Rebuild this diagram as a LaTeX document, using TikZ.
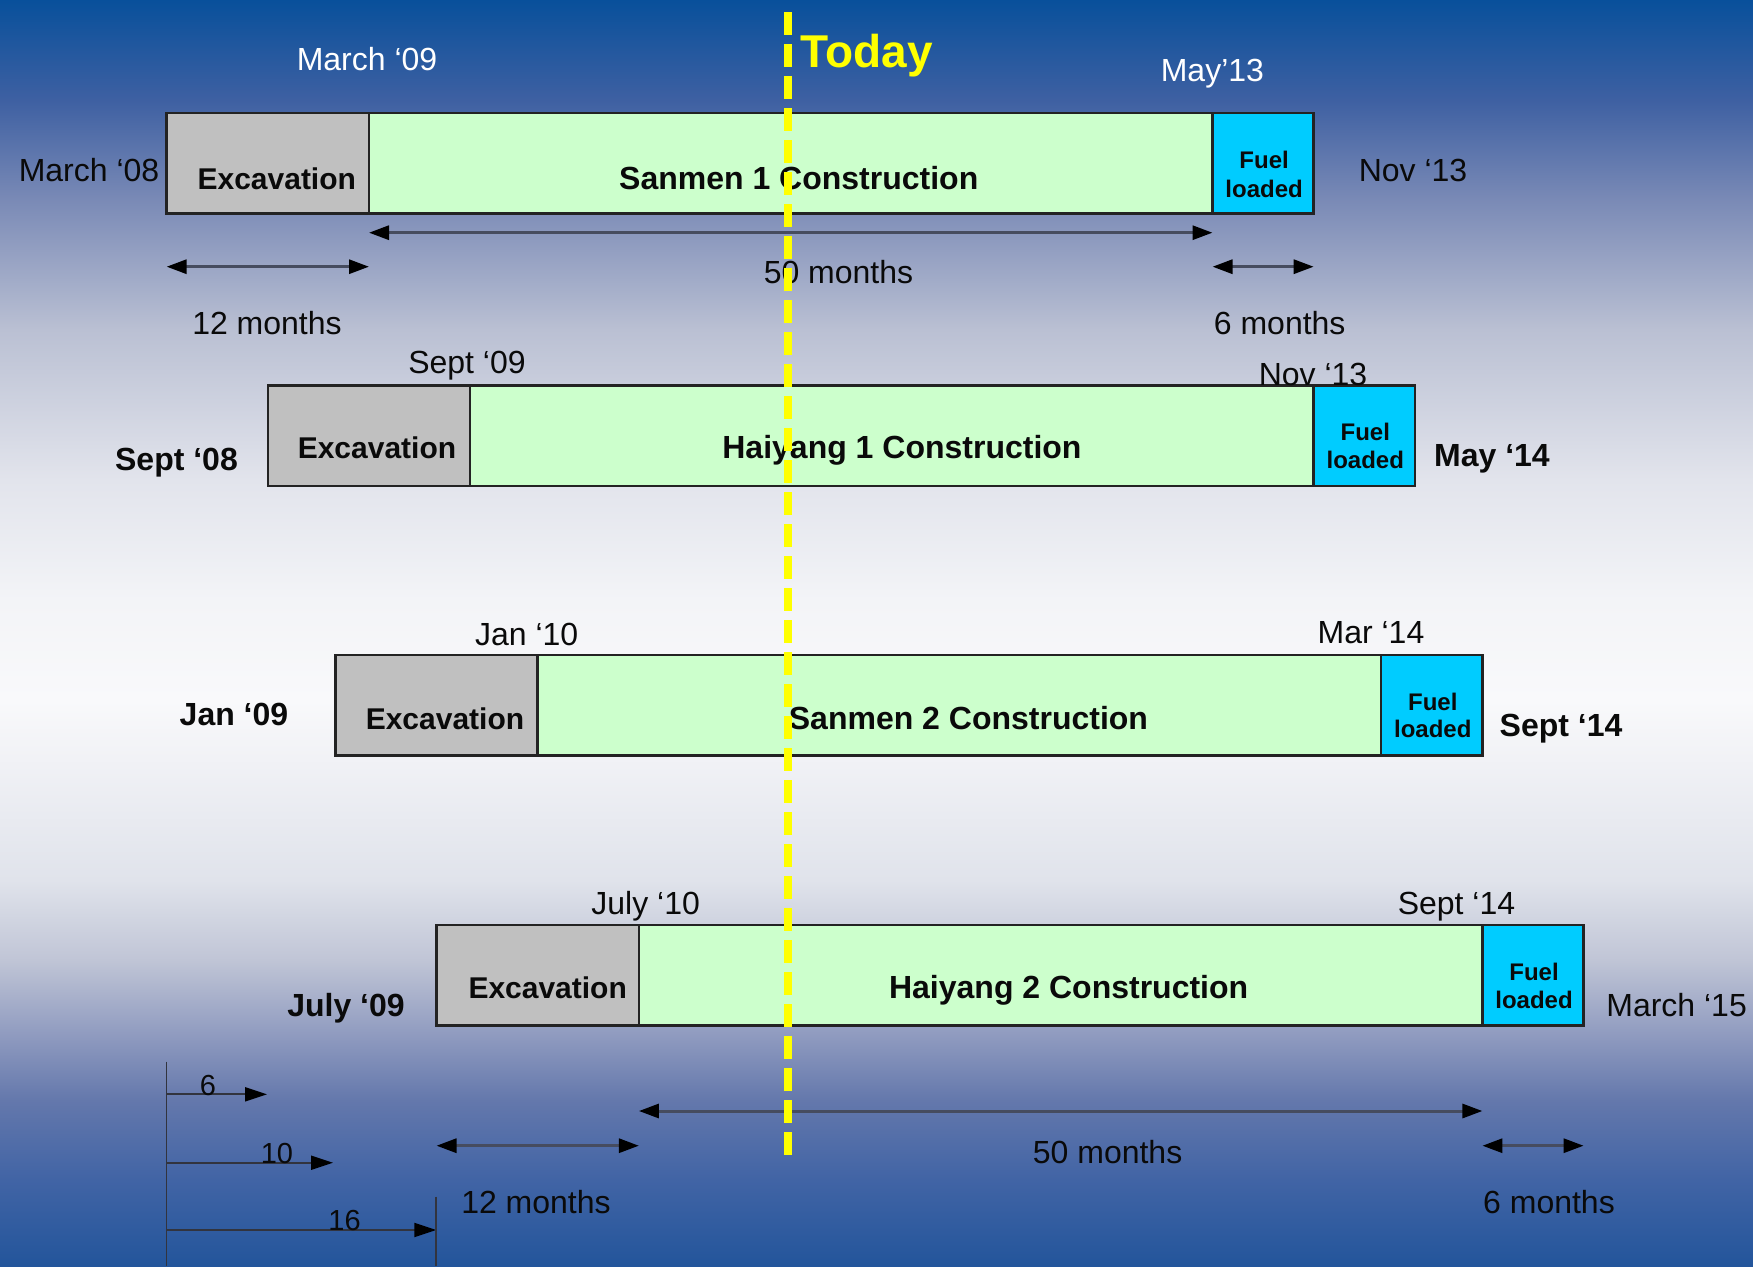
\documentclass[tikz,border=0pt]{standalone}
\usepackage{fontspec}
\setmainfont{Liberation Sans}
\usetikzlibrary{arrows.meta,calc}
\definecolor{excgray}{RGB}{192,192,192}
\definecolor{congreen}{RGB}{204,255,204}
\definecolor{fuelblue}{RGB}{0,204,255}
\definecolor{barline}{RGB}{35,35,35}
\definecolor{dimcol}{RGB}{70,76,95}
\definecolor{legcol}{RGB}{50,52,62}
\definecolor{todayyellow}{RGB}{255,255,0}
\definecolor{textdark}{RGB}{10,10,10}
% background stops (bottom -> top)
\definecolor{bgA}{RGB}{35,85,155}
\definecolor{bgB}{RGB}{65,100,165}
\definecolor{bgC}{RGB}{100,120,172}
\definecolor{bgD}{RGB}{140,152,190}
\definecolor{bgE}{RGB}{192,197,214}
\definecolor{bgF}{RGB}{224,227,235}
\definecolor{bgG}{RGB}{249,249,251}
\definecolor{bgH}{RGB}{243,244,247}
\definecolor{bgI}{RGB}{226,228,236}
\definecolor{bgJ}{RGB}{186,192,211}
\definecolor{bgK}{RGB}{122,138,182}
\definecolor{bgL}{RGB}{62,96,162}
\definecolor{bgM}{RGB}{8,80,155}
\pgfdeclareverticalshading{bgshade}{100bp}{%
color(0bp)=(bgA); color(25bp)=(bgA); color(28.40bp)=(bgB); color(31.56bp)=(bgC);
color(33.93bp)=(bgD); color(37.09bp)=(bgE); color(40.24bp)=(bgF); color(47.35bp)=(bgG);
color(51.30bp)=(bgH); color(56.04bp)=(bgI); color(61.97bp)=(bgJ); color(67.10bp)=(bgK);
color(71.05bp)=(bgL); color(75bp)=(bgM); color(100bp)=(bgM)}
\begin{document}
\begin{tikzpicture}[x=1pt,y=-1pt,
  bar/.style={draw=barline, line width=2.5pt, minimum height=100.5pt, inner sep=0pt, outer sep=0pt, anchor=north west},
  exc/.style={bar, fill=excgray, minimum width=202.4pt},
  con/.style={bar, fill=congreen, minimum width=843.5pt},
  fue/.style={bar, fill=fuelblue, minimum width=101.2pt},
  lab/.style={font=\fontsize{32}{38}\selectfont, text=textdark, anchor=base, inner sep=0pt},
  wlab/.style={lab, text=white},
  blab/.style={lab, font=\fontsize{32}{38}\selectfont\bfseries},
  exlab/.style={lab, font=\fontsize{30}{36}\selectfont\bfseries},
  fulab/.style={lab, font=\fontsize{24}{28}\selectfont\bfseries},
  leglab/.style={lab, font=\fontsize{29}{34}\selectfont},
  todaylab/.style={font=\fontsize{46}{54}\selectfont\bfseries, text=todayyellow, anchor=base west, inner sep=0pt},
  dim/.style={draw=dimcol, line width=3pt, {Triangle[length=20pt,width=14pt,color=black]}-{Triangle[length=20pt,width=14pt,color=black]}},
  legarrow/.style={draw=legcol, line width=2pt, -{Triangle[length=22pt,width=14pt,color=black]}},
  legline/.style={draw=legcol, line width=1.8pt},
  todayline/.style={draw=todayyellow, line width=7.5pt, dash pattern=on 23pt off 9pt}
]
\useasboundingbox (0,0) rectangle (1753,1266);
\shade[shading=bgshade] (0,0) rectangle (1753,1266);

% ---------- Row 1: Sanmen 1
\node[exc] (ex1) at (166.6,113) {};
\node[con] (co1) at (ex1.north east) {};
\node[fue] (fu1) at (co1.north east) {};
\node[exlab] (ex1t) at ($(ex1.south)+(9,-24.5)$) {Excavation};
\node[blab] (co1t) at ($(co1.south)+(8,-24.5)$) {Sanmen 1 Construction};
\node[fulab] (fu1a) at ($(fu1.north)+(1,55)$) {Fuel};
\node[fulab] (fu1b) at ($(fu1.north)+(1,84)$) {loaded};
\node[wlab] (d1a) at (367,70) {March ‘09};
\node[wlab] (d1b) at (1212.4,81.7) {May’13};
\node[lab] (d1c) at (89,181.7) {March ‘08};
\node[lab] (d1d) at (1413,181.7) {Nov ‘13};
\coordinate (a1l) at ($(co1.south west)+(0,19.2)$);
\coordinate (a1r) at ($(co1.south east)+(0,19.2)$);
\coordinate (b1l) at ($(ex1.south west)+(0,53.2)$);
\coordinate (b1r) at ($(ex1.south east)+(0,53.2)$);
\coordinate (c1l) at ($(fu1.south west)+(0,53.2)$);
\coordinate (c1r) at ($(fu1.south east)+(0,53.2)$);
\draw[dim] (a1l) -- (a1r);
\draw[dim] (b1l) -- (b1r);
\draw[dim] (c1l) -- (c1r);
\node[lab] (m1a) at (838.5,283) {50 months};
\node[lab] (m1b) at (267,334) {12 months};
\node[lab] (m1c) at (1279.7,334) {6 months};

% ---------- Row 2: Haiyang 1
\node[exc] (ex2) at (267.8,385.5) {};
\node[con] (co2) at (ex2.north east) {};
\node[fue] (fu2) at (co2.north east) {};
\node[exlab] (ex2t) at ($(ex2.south)+(8,-27.5)$) {Excavation};
\node[blab] (co2t) at ($(co2.south)+(10,-27.5)$) {Haiyang 1 Construction};
\node[fulab] (fu2a) at ($(fu2.north)+(1,55)$) {Fuel};
\node[fulab] (fu2b) at ($(fu2.north)+(1,83)$) {loaded};
\node[lab] (d2a) at (467,373.3) {Sept ‘09};
\node[lab] (d2b) at (1313,385) {Nov ‘13};
\node[blab] (d2c) at (176.5,470.7) {Sept ‘08};
\node[blab] (d2d) at (1492,466.7) {May ‘14};

% ---------- Row 3: Sanmen 2
\node[exc] (ex3) at (335.3,655) {};
\node[con] (co3) at (ex3.north east) {};
\node[fue] (fu3) at (co3.north east) {};
\node[exlab] (ex3t) at ($(ex3.south)+(8.5,-26)$) {Excavation};
\node[blab] (co3t) at ($(co3.south)+(9,-26)$) {Sanmen 2 Construction};
\node[fulab] (fu3a) at ($(fu3.north)+(1,55)$) {Fuel};
\node[fulab] (fu3b) at ($(fu3.north)+(1,82.5)$) {loaded};
\node[lab] (d3a) at (526.7,645) {Jan ‘10};
\node[lab] (d3b) at (1371,643.3) {Mar ‘14};
\node[blab] (d3c) at (234,725) {Jan ‘09};
\node[blab] (d3d) at (1561,736.7) {Sept ‘14};

% ---------- Row 4: Haiyang 2
\node[exc] (ex4) at (436.5,925) {};
\node[con] (co4) at (ex4.north east) {};
\node[fue] (fu4) at (co4.north east) {};
\node[exlab] (ex4t) at ($(ex4.south)+(10,-27.5)$) {Excavation};
\node[blab] (co4t) at ($(co4.south)+(8,-27.5)$) {Haiyang 2 Construction};
\node[fulab] (fu4a) at ($(fu4.north)+(1,55)$) {Fuel};
\node[fulab] (fu4b) at ($(fu4.north)+(1,83)$) {loaded};
\node[lab] (d4a) at (645.7,914) {July ‘10};
\node[lab] (d4b) at (1456.5,914) {Sept ‘14};
\node[blab] (d4c) at (346,1016.7) {July ‘09};
\node[lab] (d4d) at (1676.6,1016.7) {March ‘15};
\coordinate (a4l) at ($(co4.south west)+(0,85.5)$);
\coordinate (a4r) at ($(co4.south east)+(0,85.5)$);
\coordinate (b4l) at ($(ex4.south west)+(0,120.2)$);
\coordinate (b4r) at ($(ex4.south east)+(0,120.2)$);
\coordinate (c4l) at ($(fu4.south west)+(0,120.2)$);
\coordinate (c4r) at ($(fu4.south east)+(0,120.2)$);
\draw[dim] (a4l) -- (a4r);
\draw[dim] (b4l) -- (b4r);
\draw[dim] (c4l) -- (c4r);
\node[lab] (m4a) at (1107.6,1163.3) {50 months};
\node[lab] (m4b) at (536,1213.3) {12 months};
\node[lab] (m4c) at (1549,1213.3) {6 months};

% ---------- Offset legend
\coordinate (lgt) at (166.5,1061.7);
\coordinate (lgb) at (166.5,1266);
\draw[legline] (lgt) -- (lgb);
\coordinate (l6s) at (166.5,1094.3);
\coordinate (l6e) at (267,1094.3);
\coordinate (l10s) at (166.5,1162.7);
\coordinate (l10e) at (333,1162.7);
\coordinate (l16s) at (166.5,1230);
\coordinate (l16e) at (436.3,1230);
\draw[legarrow] (l6s) -- (l6e);
\draw[legarrow] (l10s) -- (l10e);
\draw[legarrow] (l16s) -- (l16e);
\coordinate (tkt) at (436.3,1196.7);
\coordinate (tkb) at (436.3,1266);
\draw[legline] (tkt) -- (tkb);
\node[leglab] (g6) at (208,1095) {6};
\node[leglab] (g10) at (277,1163) {10};
\node[leglab] (g16) at (344.6,1230) {16};

% ---------- Today line
\coordinate (tdt) at (788,12.3);
\coordinate (tdb) at (788,1155);
\draw[todayline] (tdt) -- (tdb);
\node[todaylab] (today) at (800.5,67) {Today};
\end{tikzpicture}
\end{document}
